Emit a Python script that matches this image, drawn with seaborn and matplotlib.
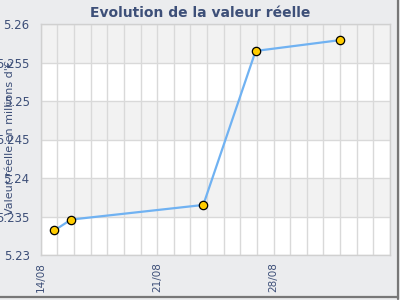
import matplotlib
matplotlib.use("Agg")
import matplotlib.pyplot as plt
import matplotlib.dates as mdates
from matplotlib.lines import Line2D
import seaborn as sns
import pandas as pd

# ---- data ----
dates = ["2023-08-14 19:40", "2023-08-15 19:40", "2023-08-23 18:30",
         "2023-08-26 22:05", "2023-08-31 23:15"]
values = [5.2332, 5.2346, 5.2365, 5.2565, 5.2579]
y_ticks = [5.23, 5.235, 5.24, 5.245, 5.25, 5.255, 5.26]
y_tick_labels = ["5.23", "5.235", "5.24", "5.245", "5.25", "5.255", "5.26"]
x_ticks = ["2023-08-14", "2023-08-21", "2023-08-28"]
x_tick_labels = ["14/08", "21/08", "28/08"]
x_range = ["2023-08-14", "2023-09-04"]
title = "Evolution de la valeur réelle"
ylabel = "Valeur réelle en millions d'€"

df = pd.DataFrame({"date": pd.to_datetime(dates), "valeur": values})

sns.set_theme(style="white")
plt.rcParams["font.family"] = ["DejaVu Sans"]

text_col = "#3d4f78"
bg = "#ebecee"

fig = plt.figure(figsize=(4, 3), dpi=100, facecolor=bg)
ax = fig.add_axes([0.102, 0.15, 0.873, 0.77])
ax.set_facecolor("white")

# alternating bands
for i in range(len(y_ticks) - 1):
    if i % 2 == 1:
        ax.axhspan(y_ticks[i], y_ticks[i + 1], color="#f2f2f2", zorder=0, lw=0)

sns.lineplot(data=df, x="date", y="valeur", ax=ax, color="#70b2f2", lw=1.6,
             marker="o", markersize=6, markerfacecolor="#ffcc00",
             markeredgecolor="black", markeredgewidth=0.9, zorder=3)

ax.set_xlim(pd.to_datetime(x_range[0]), pd.to_datetime(x_range[1]))
ax.set_ylim(y_ticks[0], y_ticks[-1])
ax.set_yticks(y_ticks)
ax.set_yticklabels(y_tick_labels)
ax.set_xticks(pd.to_datetime(x_ticks))
ax.set_xticklabels(x_tick_labels, rotation=90)
ax.xaxis.set_minor_locator(mdates.DayLocator())

ax.grid(True, which="both", axis="x", color="#d9d9d9", lw=1, zorder=1)
ax.grid(True, which="major", axis="y", color="#d9d9d9", lw=1, zorder=1)
ax.set_axisbelow(True)
ax.tick_params(axis="y", which="both", length=0, labelsize=8.5,
               labelcolor=text_col, pad=8)
ax.tick_params(axis="x", which="both", length=0, labelsize=7.5,
               labelcolor=text_col, pad=5)
for s in ax.spines.values():
    s.set_color("#d0d0d0")
    s.set_linewidth(1)

ax.set_xlabel("")
ax.set_ylabel("")
fig.text(0.025, 0.543, ylabel, rotation=90, ha="center", va="center",
         fontsize=8, color=text_col)
fig.text(0.5, 0.958, title, ha="center", va="center", fontsize=10,
         fontweight="bold", color=text_col)

# shadow border
fig.add_artist(Line2D([0.994, 0.994], [0.005, 1.0], color="#777777", lw=1.6,
                      transform=fig.transFigure))
fig.add_artist(Line2D([0.0, 0.994], [0.01, 0.01], color="#777777", lw=1.6,
                      transform=fig.transFigure))

fig.savefig("out.png", dpi=100, facecolor=bg)
